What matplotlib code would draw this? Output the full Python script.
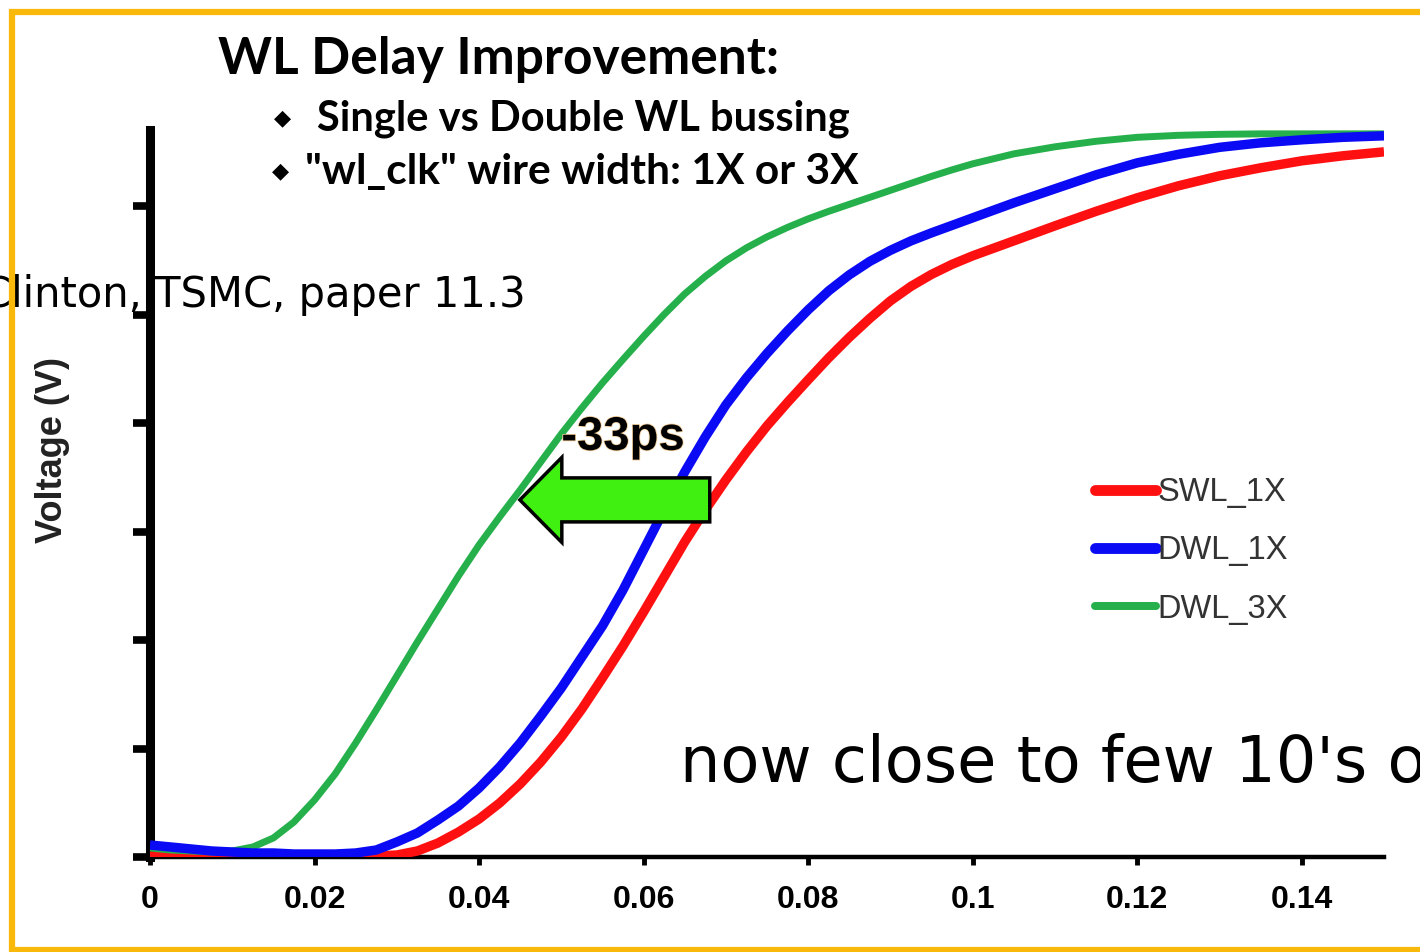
import matplotlib
matplotlib.use("Agg")
import matplotlib.pyplot as plt
import matplotlib.patheffects as pe
from matplotlib.patches import FancyArrow
from matplotlib.lines import Line2D

# ---- data ---------------------------------------------------------------
time_ns = [0.0000, 0.0025, 0.0050, 0.0075, 0.0100, 0.0125, 0.0150, 0.0175,
           0.0200, 0.0225, 0.0250, 0.0275, 0.0300, 0.0325, 0.0350, 0.0375,
           0.0400, 0.0425, 0.0450, 0.0475, 0.0500, 0.0525, 0.0550, 0.0575,
           0.0600, 0.0625, 0.0650, 0.0675, 0.0700, 0.0725, 0.0750, 0.0775,
           0.0800, 0.0825, 0.0850, 0.0875, 0.0900, 0.0925, 0.0950, 0.0975,
           0.1000, 0.1050, 0.1100, 0.1150, 0.1200, 0.1250, 0.1300, 0.1350,
           0.1400, 0.1450, 0.1500]

swl_1x = [0.0018, 0.0018, 0.0018, 0.0018, 0.0018, 0.0018, 0.0018, 0.0018,
          0.0018, 0.0018, 0.0018, 0.0018, 0.0037, 0.0111, 0.0258, 0.0461,
          0.0701, 0.0996, 0.1347, 0.1753, 0.2214, 0.2731, 0.3303, 0.3893,
          0.4520, 0.5166, 0.5812, 0.6402, 0.6956, 0.7472, 0.7952, 0.8386,
          0.8801, 0.9207, 0.9585, 0.9935, 1.0258, 1.0526, 1.0747, 1.0932,
          1.1089, 1.1365, 1.1642, 1.1910, 1.2159, 1.2380, 1.2565, 1.2712,
          1.2841, 1.2934, 1.3007]

dwl_1x = [0.0221, 0.0185, 0.0148, 0.0111, 0.0092, 0.0074, 0.0074, 0.0055,
          0.0055, 0.0055, 0.0074, 0.0129, 0.0277, 0.0443, 0.0683, 0.0941,
          0.1273, 0.1661, 0.2103, 0.2601, 0.3118, 0.3690, 0.4262, 0.4926,
          0.5664, 0.6402, 0.7103, 0.7749, 0.8339, 0.8838, 0.9290, 0.9705,
          1.0092, 1.0443, 1.0738, 1.0987, 1.1190, 1.1365, 1.1513, 1.1651,
          1.1790, 1.2066, 1.2325, 1.2583, 1.2804, 1.2961, 1.3090, 1.3173,
          1.3229, 1.3275, 1.3303]

dwl_3x = [0.0166, 0.0129, 0.0111, 0.0092, 0.0111, 0.0185, 0.0351, 0.0646,
          0.1052, 0.1531, 0.2103, 0.2712, 0.3339, 0.3967, 0.4576, 0.5185,
          0.5756, 0.6273, 0.6771, 0.7288, 0.7804, 0.8284, 0.8745, 0.9179,
          0.9603, 1.0009, 1.0387, 1.0710, 1.0996, 1.1236, 1.1439, 1.1614,
          1.1771, 1.1910, 1.2039, 1.2168, 1.2297, 1.2426, 1.2555, 1.2675,
          1.2786, 1.2970, 1.3100, 1.3202, 1.3275, 1.3312, 1.3330, 1.3339,
          1.3339, 1.3339, 1.3339]

series_names = ["SWL_1X", "DWL_1X", "DWL_3X"]
series_colors = ["#ff1010", "#0a0af5", "#25b04b"]
series_widths = [6.8, 6.8, 5.0]

x_ticks = [0.00, 0.02, 0.04, 0.06, 0.08, 0.10, 0.12, 0.14]
x_tick_labels = ["0", "0.02", "0.04", "0.06", "0.08", "0.1", "0.12", "0.14"]
y_ticks = [0.0, 0.2, 0.4, 0.6, 0.8, 1.0, 1.2]

# ---- figure -------------------------------------------------------------
W, H = 1420, 952
fig = plt.figure(figsize=(W / 100, H / 100), dpi=100)
fig.patch.set_facecolor("white")


def fx(px):
    return px / W


def fy(py):
    return 1 - py / H


ax = fig.add_axes([fx(150), fy(857), 1234 / W, 727 / H])
ax.set_xlim(0, 0.15)
ax.set_ylim(0, 1.341)

for name, ys, col, lw, z in zip(series_names, [swl_1x, dwl_1x, dwl_3x],
                                series_colors, series_widths, [3, 5, 4]):
    ax.plot(time_ns, ys, color=col, lw=lw, zorder=z,
            solid_capstyle="butt", solid_joinstyle="round")

for side in ("top", "right"):
    ax.spines[side].set_visible(False)
ax.spines["left"].set_linewidth(6.5)
ax.spines["bottom"].set_linewidth(3.2)

ax.set_xticks(x_ticks)
ax.set_xticklabels(x_tick_labels)
ax.set_yticks(y_ticks)
ax.set_yticklabels([])
ax.tick_params(axis="x", direction="out", length=6, width=3.5, pad=14.5,
               labelsize=23)
ax.tick_params(axis="y", direction="out", length=12, width=5.5)
for lab in ax.get_xticklabels():
    lab.set_fontfamily("Liberation Sans")
    lab.set_fontweight("bold")

# legend
leg_handles = [Line2D([], [], color=c, lw=w * 1.15, solid_capstyle="round")
               for c, w in zip(series_colors, series_widths)]
leg = ax.legend(leg_handles, series_names, loc="center left",
                bbox_to_anchor=(0.766, 0.421), frameon=False,
                borderpad=0, borderaxespad=0, handlelength=1.85,
                handletextpad=0.05, labelspacing=0.83,
                prop={"family": "Liberation Sans", "size": 23.5})
for t in leg.get_texts():
    t.set_color("#333333")

# delay annotation arrow
ax.add_patch(FancyArrow(0.06804, 0.6587, 0.04496 - 0.06804, 0.0,
                        width=0.0812, head_width=0.1568, head_length=0.0051,
                        length_includes_head=True, facecolor="#40f010",
                        edgecolor="black", lw=2.5, zorder=7))
ax.text(0.0500, 0.751, "-33ps", fontsize=34, fontweight="bold",
        family="Liberation Sans", ha="left", va="baseline", zorder=8,
        path_effects=[pe.withStroke(linewidth=1.2, foreground="#f3cf9c")])

# ---- text around the chart ---------------------------------------------
fig.text(fx(218), fy(74), "WL Delay Improvement:", fontsize=37,
         fontweight="bold", family="Lato", ha="left", va="baseline")
fig.text(fx(282), fy(124), "\u25c6", fontsize=16, family="DejaVu Sans",
         ha="center", va="baseline")
fig.text(fx(317), fy(131), "Single vs Double WL bussing", fontsize=30,
         fontweight="bold", family="Lato", ha="left", va="baseline")
fig.text(fx(280), fy(177), "\u25c6", fontsize=16, family="DejaVu Sans",
         ha="center", va="baseline")
fig.text(fx(305), fy(184), "\"wl_clk\" wire width: 1X or 3X", fontsize=30.6,
         fontweight="bold", family="Lato", ha="left", va="baseline")

fig.text(fx(52), fy(450), "Voltage (V)", fontsize=26, fontweight="bold",
         family="Liberation Sans", rotation=90, ha="center", va="center",
         color="#222222")

fig.text(fx(-18), fy(307), "Clinton, TSMC, paper 11.3", fontsize=30,
         family="DejaVu Sans", ha="left", va="baseline")
fig.text(fx(680), fy(782), "now close to few 10's o", fontsize=46,
         family="DejaVu Sans", ha="left", va="baseline")

# slide frame
frame = Line2D([fx(1430), fx(12), fx(12), fx(1430)],
               [fy(12), fy(12), fy(950), fy(950)],
               transform=fig.transFigure, color="#f8b90a", lw=4.5,
               solid_joinstyle="miter", zorder=20)
fig.add_artist(frame)

fig.savefig("out.png", dpi=100, facecolor="white")
